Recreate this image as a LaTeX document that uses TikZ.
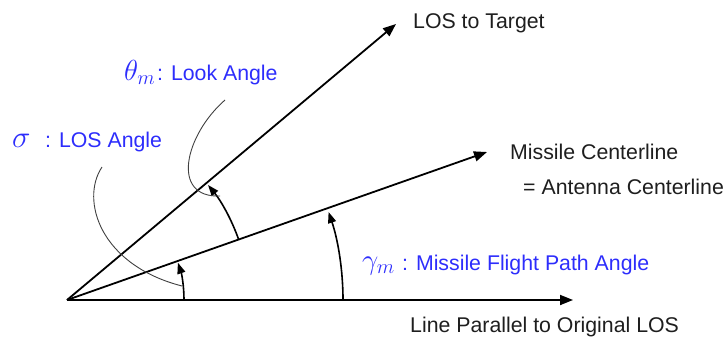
\documentclass[tikz,border=0pt]{standalone}
\usepackage{fix-cm}
\usepackage{fontspec}
\setmainfont{Liberation Sans}
\usetikzlibrary{arrows.meta}
\definecolor{lblblue}{RGB}{45,45,252}
\definecolor{txtgray}{RGB}{30,30,30}
\begin{document}
\begin{tikzpicture}[x=1pt,y=1pt,
  axisline/.style={line width=1.8pt,-{Triangle[length=13pt,width=10pt]}},
  anglearc/.style={line width=1.6pt,-{Triangle[length=11pt,width=8pt]}},
  leader/.style={line width=0.9pt,black!75},
  lbl/.style={font=\fontsize{21.3}{25}\selectfont,anchor=base west,inner sep=0pt,text=txtgray},
  blbl/.style={lbl,text=lblblue},
  greek/.style={font=\fontsize{29}{33}\selectfont,anchor=base west,inner sep=0pt,text=lblblue}]
\useasboundingbox (0,0) rectangle (727,338);
% geometry
\coordinate (O) at (67,38);
\coordinate (H) at (573,38);
\coordinate (T) at (396,314);
\coordinate (C) at (487,186);
% main lines
\draw[axisline] (O) -- (H);
\draw[axisline] (O) -- (T);
\draw[axisline] (O) -- (C);
% angle arcs
\draw[anglearc] ([xshift=117pt]O) arc[start angle=0,end angle=18.6,radius=117];
\draw[anglearc] ([xshift=276pt]O) arc[start angle=0,end angle=18.6,radius=276];
\draw[anglearc] (O) ++(19.4:182) arc[start angle=19.4,end angle=39.2,radius=182];
% labels
\node[lbl] (lT) at (413,309) {LOS to Target};
\node[lbl] (lC) at (510,179) {Missile Centerline};
\node[lbl] (lA) at (523,144) {= Antenna Centerline};
\node[lbl] (lH) at (410,6) {Line Parallel to Original LOS};
\node[greek,font=\fontsize{31}{34}\selectfont] (gs) at (12,191) {$\sigma$};
\node[blbl] (ls) at (45,191) {: LOS Angle};
\node[greek] (gt) at (124,258) {$\theta_m$};
\node[blbl] (lt) at (157,258) {: Look Angle};
\node[greek] (gg) at (362,69) {$\gamma_m$};
\node[blbl] (lg) at (402,68) {: Missile Flight Path Angle};
% leaders
\coordinate (s1) at (102,171);
\coordinate (s2) at (182,52);
\draw[leader] (s1) .. controls (80,138) and (100,73) .. (s2);
\coordinate (t1) at (225,238);
\coordinate (t2) at (220,142);
\draw[leader] (t1) .. controls (185,203) and (170,140) .. (t2);
\end{tikzpicture}
\end{document}
